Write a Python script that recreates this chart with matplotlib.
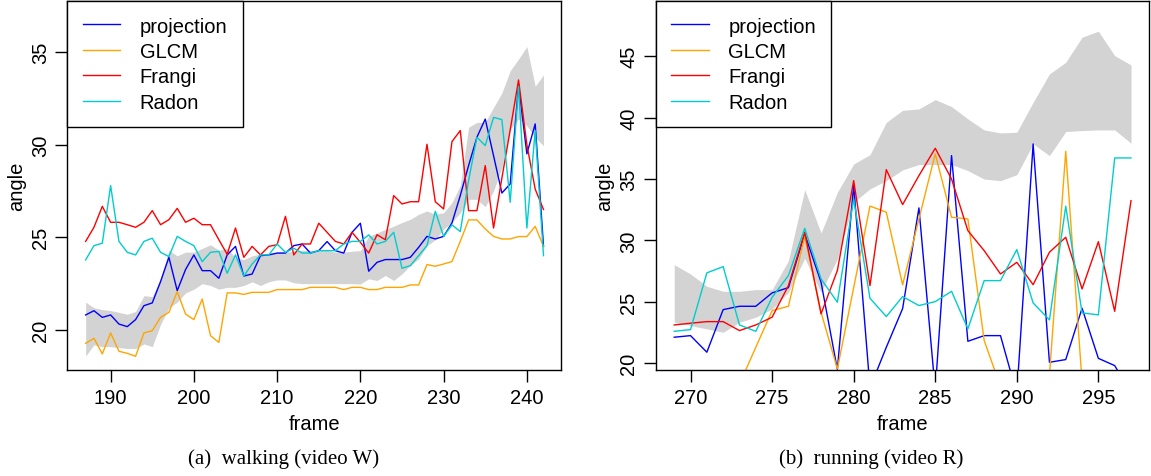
import matplotlib
matplotlib.use("Agg")
import matplotlib.pyplot as plt
import numpy as np

plt.rcParams['font.family'] = ['Liberation Sans', 'DejaVu Sans']

# (a) walking, video W
frames_w = np.arange(187, 243)
proj_w = [20.81, 21.04, 20.68, 20.81, 20.32, 20.18, 20.56, 21.31, 21.46, 22.61,
          23.92, 22.12, 23.26, 24.05, 23.2, 23.2, 22.79, 24.05, 24.51, 22.91,
          23.02, 24.01, 24.05, 24.15, 24.15, 24.55, 24.64, 24.15, 24.28, 24.77,
          24.28, 24.15, 25.27, 25.76, 23.17, 23.65, 23.8, 23.8, 23.8, 23.92,
          24.46, 25.05, 24.91, 25.05, 25.77, 27.25, 28.87, 30.4, 31.38, 29.4,
          27.39, 27.88, 33.22, 29.5, 31.12, 24.51]
glcm_w = [19.28, 19.55, 18.71, 19.84, 18.85, 18.74, 18.58, 19.84, 19.96, 20.68,
          20.95, 22.07, 20.86, 20.56, 21.67, 19.69, 19.33, 22.0, 22.0, 21.92,
          22.03, 22.03, 22.03, 22.18, 22.18, 22.18, 22.18, 22.3, 22.3, 22.3,
          22.3, 22.18, 22.3, 22.3, 22.18, 22.18, 22.3, 22.3, 22.3, 22.43,
          22.43, 23.53, 23.44, 23.56, 23.69, 24.78, 25.94, 25.94, 25.45, 25.05,
          24.91, 24.91, 25.04, 25.04, 25.59, 24.51]
frangi_w = [24.78, 25.54, 26.67, 25.81, 25.81, 25.68, 25.54, 25.81, 26.44, 25.68,
            25.95, 26.56, 25.81, 26.03, 25.68, 25.68, 24.87, 24.08, 25.5, 23.92,
            24.51, 24.05, 24.51, 24.6, 26.13, 24.05, 24.64, 24.64, 25.76, 25.27,
            24.78, 24.64, 25.27, 24.73, 24.15, 25.14, 24.87, 27.25, 26.8, 26.92,
            26.92, 30.02, 26.92, 26.53, 30.16, 30.76, 26.44, 26.44, 28.87, 25.5,
            28.2, 30.8, 33.49, 30.0, 27.6, 26.5]
radon_w = [23.78, 24.55, 24.68, 27.79, 24.78, 24.19, 24.05, 24.78, 24.95, 24.19,
           23.96, 25.05, 24.78, 24.55, 23.69, 24.19, 24.24, 23.06, 24.05, 22.91,
           23.56, 24.05, 24.05, 24.64, 24.19, 24.41, 24.15, 24.15, 24.28, 24.28,
           24.28, 24.64, 24.78, 24.78, 25.13, 24.64, 24.78, 25.27, 23.33, 23.47,
           24.01, 24.55, 26.4, 25.05, 25.67, 25.31, 28.06, 30.4, 29.95, 31.47,
           31.35, 26.89, 33.15, 25.5, 30.76, 24.01]
band_hi_w = [21.5, 21.2, 21.1, 21.05, 20.95, 20.85, 21.0, 21.85, 21.8, 22.8,
             24.3, 24.0, 24.2, 24.2, 24.4, 24.6, 24.3, 24.4, 23.9, 23.8,
             24.0, 24.1, 24.1, 24.2, 24.2, 24.25, 24.3, 24.3, 24.3, 24.3,
             24.2, 24.2, 24.25, 24.28, 25.06, 25.24, 25.42, 25.6, 25.8, 25.97,
             26.24, 26.42, 26.24, 26.33, 26.87, 27.8, 30.94, 31.2, 31.2, 32.01,
             32.79, 33.99, 34.62, 35.29, 33.15, 33.76]
band_lo_w = [18.6, 19.2, 19.1, 19.1, 19.05, 19.0, 19.0, 19.25, 19.1, 20.3,
             21.2, 21.5, 22.0, 22.2, 22.5, 22.4, 22.2, 22.3, 22.3, 22.4,
             22.6, 22.4, 22.6, 22.7, 22.7, 22.55, 22.5, 22.5, 22.5, 22.5,
             22.5, 22.5, 22.5, 22.48, 22.76, 22.67, 22.94, 22.67, 23.03, 23.48,
             23.84, 24.55, 24.87, 25.45, 25.8, 26.33, 27.05, 27.05, 26.65, 27.5,
             28.78, 30.85, 31.38, 31.02, 30.39, 29.94]

# (b) running, video R
frames_r = np.arange(269, 298)
proj_r = [22.12, 22.25, 20.9, 24.37, 24.64, 24.64, 25.73, 26.16, 30.53, 26.6,
          19.5, 34.47, 18.0, 21.3, 24.45, 32.65, 17.8, 36.91, 21.79, 22.25,
          22.25, 17.5, 37.86, 20.08, 20.3, 24.48, 20.4, 19.81, 17.6]
glcm_r = [17.0, 17.0, 17.0, 17.5, 18.3, 21.3, 24.29, 24.64, 30.34, 24.15,
          19.54, 26.16, 32.8, 32.3, 26.38, 31.75, 37.05, 31.89, 31.75, 21.85,
          18.1, 17.0, 17.0, 19.0, 37.26, 18.5, 17.0, 17.0, 17.0]
frangi_r = [23.12, 23.26, 23.39, 23.39, 22.66, 23.12, 23.75, 26.32, 30.67, 24.02,
            27.55, 34.87, 26.32, 35.77, 32.92, 35.28, 37.51, 35.0, 30.8, 29.17,
            27.27, 28.22, 26.4, 29.04, 30.26, 26.05, 29.9, 24.23, 33.24]
radon_r = [22.6, 22.74, 27.36, 27.87, 23.12, 22.6, 25.37, 27.14, 30.99, 26.87,
           24.97, 33.38, 25.29, 23.8, 25.43, 24.7, 25.02, 25.86, 22.8, 26.73,
           26.73, 29.26, 24.91, 23.53, 32.79, 24.1, 23.94, 36.72, 36.72]
band_hi_r = [28.03, 27.27, 26.27, 25.86, 25.86, 26.0, 26.0, 28.36, 34.14, 30.61,
             33.92, 36.23, 36.99, 39.62, 40.6, 40.71, 41.47, 40.9, 39.9, 39.0,
             38.76, 38.81, 41.25, 43.56, 44.51, 46.55, 47.04, 45.05, 44.29]
band_lo_r = [23.34, 23.07, 22.8, 22.52, 23.34, 23.75, 24.42, 25.78, 28.55, 25.78,
             28.5, 33.11, 34.2, 34.87, 35.75, 36.18, 36.18, 36.18, 35.69, 35.0,
             34.87, 35.36, 37.86, 36.91, 38.87, 38.95, 39.0, 39.0, 37.92]

names = ['projection', 'GLCM', 'Frangi', 'Radon']
colors = ['#0000ff', '#ffa500', '#ff0000', '#00cdcd']

fig = plt.figure(figsize=(11.51, 4.77), dpi=100)
ax1 = fig.add_axes([0.0585, 0.2222, 0.4289, 0.7736])
ax2 = fig.add_axes([0.5699, 0.2222, 0.4286, 0.7736])

panels = [
    (ax1, frames_w, [proj_w, glcm_w, frangi_w, radon_w], band_lo_w, band_hi_w,
     (184.8, 244.1), (17.84, 37.75), np.arange(190, 241, 10), [20, 25, 30, 35]),
    (ax2, frames_r, [proj_r, glcm_r, frangi_r, radon_r], band_lo_r, band_hi_r,
     (267.88, 298.12), (19.45, 49.5), np.arange(270, 296, 5), [20, 25, 30, 35, 40, 45]),
]

fs = 14.5
for ax, fr, series, lo, hi, xl, yl, xt, yt in panels:
    ax.fill_between(fr, lo, hi, color='#d3d3d3', lw=0)
    for s, c, n in zip(series, colors, names):
        ax.plot(fr, s, color=c, lw=1.0, label=n)
    ax.set_xlim(*xl)
    ax.set_ylim(*yl)
    ax.set_xticks(xt)
    ax.set_yticks(yt)
    ax.tick_params(direction='out', length=8.6, width=1.0, labelsize=fs, pad=4)
    for lab in ax.get_yticklabels():
        lab.set_rotation(90)
        lab.set_va('center')
    for sp in ax.spines.values():
        sp.set_linewidth(1.0)
    ax.set_xlabel('frame', fontsize=fs, labelpad=5.4)
    ax.set_ylabel('angle', fontsize=fs, labelpad=3.5)
    leg = ax.legend(loc='upper left', fontsize=fs, frameon=True, fancybox=False,
                    edgecolor='black', framealpha=1, borderaxespad=0,
                    handlelength=1.86, handletextpad=0.965, labelspacing=0.32,
                    borderpad=0.77)
    leg.get_frame().set_linewidth(1.0)

fig.text(0.2463, 0.0367, '(a)  walking (video W)', ha='center', va='center',
         fontsize=15, family=['Liberation Serif', 'DejaVu Serif'])
fig.text(0.7565, 0.0367, '(b)  running (video R)', ha='center', va='center',
         fontsize=15, family=['Liberation Serif', 'DejaVu Serif'])

fig.savefig('out.png', dpi=100)
